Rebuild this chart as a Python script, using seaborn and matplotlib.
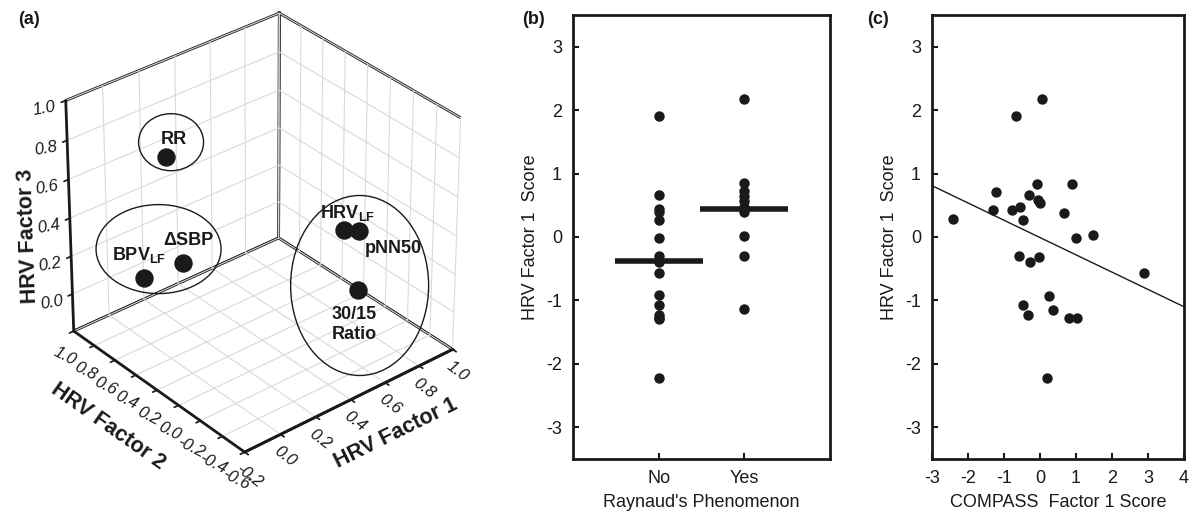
import numpy as np
import pandas as pd
import matplotlib
matplotlib.use("Agg")
import matplotlib.pyplot as plt
import seaborn as sns
from matplotlib.patches import Ellipse
from matplotlib.transforms import IdentityTransform

sns.set_theme(style="white")
plt.rcParams["font.family"] = ["Liberation Sans", "DejaVu Sans"]
plt.rcParams["mathtext.fontset"] = "custom"
plt.rcParams["mathtext.rm"] = "Liberation Sans"
plt.rcParams["mathtext.bf"] = "Liberation Sans:bold"
plt.rcParams["axes.unicode_minus"] = False
for key in ("text.color", "axes.labelcolor", "xtick.color", "ytick.color", "axes.edgecolor"):
    plt.rcParams[key] = "k"

# (a) loadings on the three HRV factors
var_names = ["RR", r"BPV$_{\mathbf{LF}}$", "ΔSBP", r"HRV$_{\mathbf{LF}}$", "pNN50", "30/15\nRatio"]
factor1 = [0.06, 0.09, 0.25, 0.81, 0.86, 0.75]
factor2 = [0.52, 0.80, 0.70, 0.10, 0.04, -0.12]
factor3 = [0.78, 0.04, 0.09, 0.25, 0.25, 0.04]
cluster = [0, 1, 1, 2, 2, 2]

# (b) HRV factor 1 score by Raynaud's phenomenon
no_scores = [1.90, 0.66, 0.44, 0.40, 0.27, -0.02, -0.30, -0.39, -0.56, -0.92,
             -1.08, -1.23, -1.28, -1.30, -2.22]
yes_scores = [2.18, 0.85, 0.72, 0.64, 0.56, 0.48, 0.40, 0.02, -0.30, -1.14]

# (c) HRV factor 1 score vs COMPASS factor 1 score
compass = [0.05, -0.67, -1.22, -1.32, -0.78, -0.57, -0.48, -0.31, -0.09, -0.05,
           -0.01, 0.67, 0.89, 0.99, 1.48, -2.42, -0.59, -0.28, -0.04, 2.88,
           0.24, -0.46, -0.33, 0.36, 0.80, 1.03, 0.20]
hrv1 = [2.18, 1.90, 0.71, 0.43, 0.43, 0.47, 0.26, 0.66, 0.83, 0.59,
        0.53, 0.38, 0.84, -0.01, 0.03, 0.28, -0.30, -0.40, -0.31, -0.57,
        -0.93, -1.08, -1.23, -1.15, -1.28, -1.28, -2.22]

fig = plt.figure(figsize=(12, 5.22), dpi=100)

# ---- panel (a): 3D loadings
ax3 = fig.add_axes([0.003, 0.052, 0.42, 1.0], projection="3d",
                   proj_type="persp", focal_length=1.3)
ax3.view_init(elev=32.5, azim=-130)
ax3.set_box_aspect((266, 265, 265), zoom=0.915)
ax3.set_xlim(-0.2, 1.0)
ax3.set_ylim(-0.6, 1.0)
ax3.set_zlim(-0.2, 1.0)
ax3.scatter(factor1, factor2, factor3, s=150, c="k", depthshade=False)

ax3.set_xticks(np.round(np.arange(-0.2, 1.01, 0.2), 1))
ax3.set_yticks(np.round(np.arange(-0.6, 1.01, 0.2), 1))
ax3.set_zticks(np.round(np.arange(0.0, 1.01, 0.2), 1))
tick_kw = dict(fontstyle="italic", fontsize=12, color="0.1")
ax3.set_xticklabels([f"{v:.1f}" for v in ax3.get_xticks()], rotation=-37, **tick_kw)
ax3.set_yticklabels([f"{v:.1f}" for v in ax3.get_yticks()], rotation=-27, **tick_kw)
ax3.set_zticklabels([f"{v:.1f}" for v in ax3.get_zticks()], rotation=10, **tick_kw)
ax3.xaxis.set_tick_params(pad=-3)
ax3.yaxis.set_tick_params(pad=0)
ax3.zaxis.set_tick_params(pad=2.5)
ax3.set_xlabel("")
ax3.set_ylabel("")
ax3.set_zlabel("")

for axis in (ax3.xaxis, ax3.yaxis, ax3.zaxis):
    axis.set_pane_color((1, 1, 1, 1))
    axis.pane.set_edgecolor("k")
    axis.pane.set_linewidth(2)
    axis.line.set_linewidth(2)
    axis._axinfo["grid"].update(color="0.85", linewidth=0.8)
    axis._axinfo["tick"].update(inward_factor=0.25, outward_factor=0.0)

# ---- panel (b)
df_b = pd.DataFrame({
    "raynaud": ["No"] * len(no_scores) + ["Yes"] * len(yes_scores),
    "score": no_scores + yes_scores,
})
axb = fig.add_axes([0.4775, 0.1207, 0.2142, 0.8506])
sns.stripplot(data=df_b, x="raynaud", y="score", order=["No", "Yes"],
              jitter=False, color="k", size=7.5, linewidth=0, ax=axb)
sns.pointplot(data=df_b, x="raynaud", y="score", order=["No", "Yes"],
              estimator="mean", errorbar=None, color="k", markers="_",
              linestyles="none", markersize=64, markeredgewidth=4, ax=axb)
axb.set_xlim(-1, 2)
axb.set_xlabel("Raynaud's Phenomenon", fontsize=13, labelpad=5)

# ---- panel (c)
df_c = pd.DataFrame({"compass": compass, "hrv": hrv1})
axc = fig.add_axes([0.7767, 0.1207, 0.2100, 0.8506])
axc.set_xlim(-3, 4)
sns.regplot(data=df_c, x="compass", y="hrv", ci=None, truncate=False, color="k",
            scatter_kws=dict(s=56, linewidths=0, alpha=1), line_kws=dict(lw=1), ax=axc)
axc.set_xlim(-3, 4)
axc.set_xticks(range(-3, 5))
axc.set_xlabel("COMPASS  Factor 1 Score", fontsize=13, labelpad=5)

for ax in (axb, axc):
    ax.set_ylim(-3.5, 3.5)
    ax.set_yticks(range(-3, 4))
    ax.set_ylabel("HRV Factor 1  Score", fontsize=13, labelpad=5)
    ax.tick_params(direction="in", length=4, width=1.5, labelsize=13, pad=8,
                   color="k", labelcolor="k", bottom=True, left=True)
    for sp in ax.spines.values():
        sp.set_linewidth(2)
        sp.set_color("k")

for lbl, xpos in (("(a)", 18), ("(b)", 522), ("(c)", 867)):
    fig.text(xpos / 1200, 1 - 19 / 522, lbl, fontsize=13, fontweight="bold",
             va="center", ha="left")

# ---- annotations of panel (a), placed from the projected data
fig.canvas.draw()


def to_display(xs, ys, zs):
    pts = np.vstack([xs, ys, zs, np.ones(len(xs))])
    v = ax3.M @ pts
    return ax3.transData.transform((v[:2] / v[3]).T)


disp = to_display(factor1, factor2, factor3)

ell_style = {0: ((5, 15), 65, 57), 1: ((-5, 21), 125, 89), 2: ((6, -35), 138, 180)}
for g, ((dx, dy), w, h) in ell_style.items():
    idx = [i for i, c in enumerate(cluster) if c == g]
    cx, cy = disp[idx].mean(axis=0)
    fig.add_artist(Ellipse((cx + dx, cy + dy), w, h, fill=False, lw=1,
                           ec="k", transform=IdentityTransform()))

label_offsets = [(8, 18), (-5, 23), (6, 22), (4, 17), (34, -18), (-3, -34)]
for name, (px, py), (dx, dy) in zip(var_names, disp, label_offsets):
    fig.text(px + dx, py + dy, name, transform=IdentityTransform(), fontsize=13,
             fontweight="bold", ha="center", va="center", multialignment="center")

# axis titles along the box edges
x0, x1 = ax3.get_xlim()
y0, y1 = ax3.get_ylim()
z0, z1 = ax3.get_zlim()
edge_titles = [
    ("HRV Factor 1", (x0, y0, z0), (x1, y0, z0), 0.62, 50),
    ("HRV Factor 2", (x0, y1, z0), (x0, y0, z0), 0.40, 58),
    ("HRV Factor 3", (x0, y1, z0), (x0, y1, z1), 0.42, -42),
]
for text, a, b, frac, off in edge_titles:
    ends = to_display([a[0], b[0]], [a[1], b[1]], [a[2], b[2]])
    d = ends[1] - ends[0]
    u = d / np.hypot(*d)
    pos = ends[0] + frac * d + off * np.array([u[1], -u[0]])
    ang = np.degrees(np.arctan2(d[1], d[0]))
    fig.text(pos[0], pos[1], text, transform=IdentityTransform(), fontsize=15.5,
             fontweight="bold", rotation=ang, ha="center", va="center",
             rotation_mode="anchor")

fig.savefig("out.png", dpi=100)
